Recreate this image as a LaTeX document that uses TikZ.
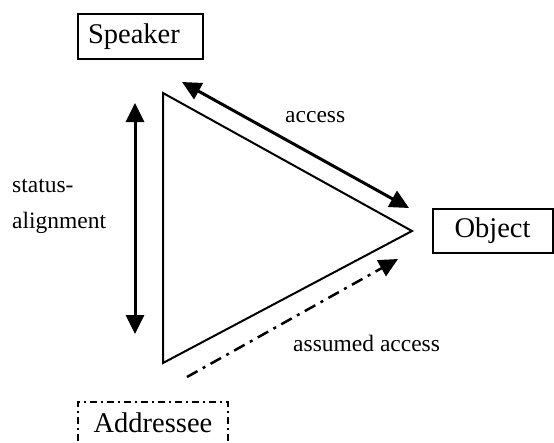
\documentclass[tikz,border=0pt]{standalone}
\usepackage{fontspec}
\setmainfont{Liberation Serif}
\usetikzlibrary{arrows.meta}
\begin{document}
\begin{tikzpicture}[x=1pt,y=-1pt,
  boxfont/.style={font=\fontsize{28.5}{34}\selectfont},
  lbl/.style={font=\fontsize{23.5}{28}\selectfont, inner sep=0pt},
  rolebox/.style={boxfont, draw, line width=2pt, outer sep=0pt, inner ysep=0pt},
  bigtip/.style={-{Triangle[length=19pt,width=18pt]}},
  dbltip/.style={{Triangle[length=19pt,width=18pt]}-{Triangle[length=19pt,width=18pt]}},
  edge/.style={line width=2pt, line join=miter},
  link/.style={line width=3pt},
  dashdot/.style={dash pattern=on 12pt off 6pt on 3pt off 6pt},
  finedashdot/.style={dash pattern=on 7pt off 4pt on 2pt off 4pt}]
\useasboundingbox (0,0) rectangle (554,442);

% the three roles
\node[rolebox, anchor=north west, text width=105pt, inner xsep=10pt,
      align=left, minimum height=45pt] (speaker) at (78,14) {Speaker};
\node[rolebox, minimum width=120pt, minimum height=44pt] (object) at (492.5,231) {Object};
\node[rolebox, finedashdot, anchor=north west, minimum width=150pt,
      minimum height=42pt] (addressee) at (78,402) {Addressee};

% triangle corners
\coordinate (ts) at (163,93);
\coordinate (to) at (412,231);
\coordinate (ta) at (163,363);
\draw[edge] (ts) -- (to) -- (ta) -- cycle;

% arrow end points
\coordinate (acc1) at (182,82);
\coordinate (acc2) at (409,208);
\coordinate (st1) at (135,103);
\coordinate (st2) at (135,334);
\coordinate (as1) at (187,377);
\coordinate (as2) at (398,259);

\draw[link, dbltip] (acc1) -- (acc2);
\draw[link, dbltip] (st1) -- (st2);
\draw[link, dashdot, bigtip, line width=2.5pt] (as1) -- (as2);

% labels
\node[lbl, anchor=base west] (laccess) at (285,122) {access};
\node[lbl, anchor=base west] (lstatus) at (12,192) {status-};
\node[lbl, anchor=base west] (lalign) at (12,228) {alignment};
\node[lbl, anchor=base west] (lassumed) at (293,351) {assumed access};
\end{tikzpicture}
\end{document}
